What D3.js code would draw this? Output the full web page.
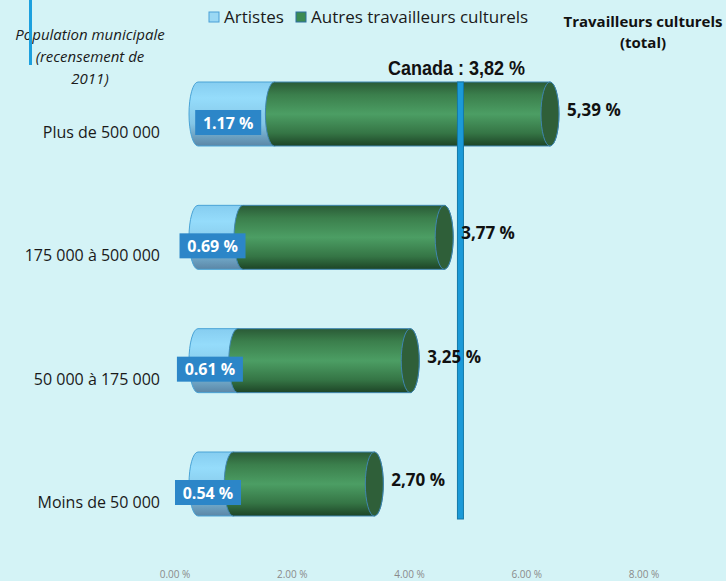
<!DOCTYPE html>
<html>
<head>
<meta charset="utf-8">
<script src="https://cdn.jsdelivr.net/npm/d3@7"></script>
<style>
  body { margin: 0; background: #d4f3f6; }
  svg { display: block; }
</style>
</head>
<body>
<svg id="chart" width="726" height="581"></svg>
<script>
// data
const categories = ["Plus de 500 000", "175 000 à 500 000", "50 000 à 175 000", "Moins de 50 000"];
const artistes = [1.17, 0.69, 0.61, 0.54];
const totals = [5.39, 3.77, 3.25, 2.70];
const canadaValue = 3.82;
const axisTicks = [0, 2, 4, 6, 8];

const width = 726;
const height = 581;
const svg = d3.select("#chart");
const font = "'Open Sans', Lato, sans-serif";

const barH = 64;
const rx = 9;

// bars scale (the drawn cylinders), axis labels sit on their own scale like in the original
const x = d3.scaleLinear().domain([0, 8]).range([198, 198 + 8 * 65.3]);
const xAxisScale = d3.scaleLinear().domain([0, 8]).range([174.5, 643.5]);
const y = d3.scalePoint().domain(categories).range([114, 484]);

const defs = svg.append("defs");

const blueGrad = defs.append("linearGradient").attr("id", "blueGrad")
  .attr("x1", 0).attr("y1", 0).attr("x2", 0).attr("y2", 1);
blueGrad.append("stop").attr("offset", "0%").attr("stop-color", "#86cdf0");
blueGrad.append("stop").attr("offset", "25%").attr("stop-color", "#95dcfb");
blueGrad.append("stop").attr("offset", "65%").attr("stop-color", "#84c6e6");
blueGrad.append("stop").attr("offset", "100%").attr("stop-color", "#5b86a6");

const greenGrad = defs.append("linearGradient").attr("id", "greenGrad")
  .attr("x1", 0).attr("y1", 0).attr("x2", 0).attr("y2", 1);
greenGrad.append("stop").attr("offset", "0%").attr("stop-color", "#2a5a36");
greenGrad.append("stop").attr("offset", "20%").attr("stop-color", "#3b7f4c");
greenGrad.append("stop").attr("offset", "50%").attr("stop-color", "#4c9e64");
greenGrad.append("stop").attr("offset", "80%").attr("stop-color", "#357545");
greenGrad.append("stop").attr("offset", "100%").attr("stop-color", "#1d4426");

// cylinder body: left edge bulges left, right edge bulges right
function body(x0, x1, cy) {
  const top = cy - barH / 2, bot = cy + barH / 2, ry = barH / 2;
  return `M${x0},${top} L${x1},${top} A${rx},${ry} 0 0 1 ${x1},${bot} L${x0},${bot} A${rx},${ry} 0 0 1 ${x0},${top} Z`;
}

const rows = categories.map((c, i) => ({ cat: c, a: artistes[i], t: totals[i] }));

const bars = svg.selectAll("g.bar")
  .data(rows)
  .enter()
  .append("g")
  .attr("class", "bar");

// artistes part
bars.append("path")
  .attr("d", d => body(x(0), x(d.a), y(d.cat)))
  .attr("fill", "url(#blueGrad)")
  .attr("stroke", "#4aa3d6")
  .attr("stroke-width", 1);

// autres travailleurs culturels part
bars.append("path")
  .attr("d", d => body(x(d.a), x(d.t), y(d.cat)))
  .attr("fill", "url(#greenGrad)")
  .attr("stroke", "#3f86b0")
  .attr("stroke-width", 1);

// end cap
bars.append("ellipse")
  .attr("cx", d => x(d.t))
  .attr("cy", d => y(d.cat))
  .attr("rx", rx)
  .attr("ry", barH / 2)
  .attr("fill", "#2f5f39")
  .attr("stroke", "#3f86b0")
  .attr("stroke-width", 1);

// artistes value boxes
const boxW = 66, boxH = 25;
function boxX(d) {
  return Math.max(175, (x(0) + x(d.a)) / 2 - 8 - boxW / 2);
}
bars.append("rect")
  .attr("x", d => boxX(d))
  .attr("y", d => y(d.cat) + 8.5 - boxH / 2)
  .attr("width", boxW)
  .attr("height", boxH)
  .attr("fill", "#2c86c8");
bars.append("text")
  .attr("x", d => boxX(d) + boxW / 2)
  .attr("y", d => y(d.cat) + 8.5 + 6)
  .attr("text-anchor", "middle")
  .attr("fill", "#fff")
  .attr("font-family", font)
  .attr("font-weight", "bold")
  .attr("font-size", 16)
  .text(d => d.a.toFixed(2) + " %");

// Canada line
const canadaX = x(canadaValue) + 13;
svg.append("rect")
  .attr("x", canadaX - 3)
  .attr("y", 82)
  .attr("width", 6)
  .attr("height", 437)
  .attr("fill", "#1b9ad8")
  .attr("stroke", "#1479a8")
  .attr("stroke-width", 1);

svg.append("text")
  .attr("x", canadaX - 4)
  .attr("y", 75)
  .attr("text-anchor", "middle")
  .attr("fill", "#111")
  .attr("font-family", "'Liberation Sans', Arial, sans-serif")
  .attr("font-weight", "bold")
  .attr("font-size", 20)
  .attr("textLength", 137)
  .attr("lengthAdjust", "spacingAndGlyphs")
  .text("Canada : " + canadaValue.toFixed(2).replace(".", ",") + " %");

// total labels (above the Canada line)
svg.selectAll("text.total")
  .data(rows)
  .enter()
  .append("text")
  .attr("class", "total")
  .attr("x", d => x(d.t) + 17)
  .attr("y", d => y(d.cat) + 2)
  .attr("fill", "#111")
  .attr("font-family", font)
  .attr("font-weight", "bold")
  .attr("font-size", 17)
  .text(d => d.t.toFixed(2).replace(".", ",") + " %");

// category labels
svg.selectAll("text.cat")
  .data(categories)
  .enter()
  .append("text")
  .attr("class", "cat")
  .attr("x", 160)
  .attr("y", d => y(d) + 24)
  .attr("text-anchor", "end")
  .attr("fill", "#1a1a1a")
  .attr("font-family", font)
  .attr("font-size", 16)
  .text(d => d);

// x axis (labels only)
const axis = d3.axisBottom(xAxisScale)
  .tickValues(axisTicks)
  .tickSize(0)
  .tickFormat(d => d.toFixed(2) + " %");
const gAxis = svg.append("g")
  .attr("transform", "translate(0,568)")
  .call(axis);
gAxis.select(".domain").remove();
gAxis.selectAll("text")
  .attr("fill", "#8a8a8a")
  .attr("font-family", font)
  .attr("font-size", 10);

// legend
const legendItems = [
  { label: "Artistes", fill: "#9ad8f4", stroke: "#4a9fd6", x: 209 },
  { label: "Autres travailleurs culturels", fill: "#3b8a52", stroke: "#2c6fa0", x: 296 }
];
const legend = svg.selectAll("g.legend")
  .data(legendItems)
  .enter()
  .append("g")
  .attr("class", "legend");
legend.append("rect")
  .attr("x", d => d.x)
  .attr("y", 12)
  .attr("width", 10)
  .attr("height", 10)
  .attr("fill", d => d.fill)
  .attr("stroke", d => d.stroke);
legend.append("text")
  .attr("x", d => d.x + 15)
  .attr("y", 23)
  .attr("fill", "#1a1a1a")
  .attr("font-family", font)
  .attr("font-size", 17)
  .text(d => d.label);

// right header
svg.append("text")
  .attr("text-anchor", "middle")
  .attr("fill", "#111")
  .attr("font-family", font)
  .attr("font-weight", "bold")
  .attr("font-size", 15)
  .selectAll("tspan")
  .data(["Travailleurs culturels", "(total)"])
  .enter()
  .append("tspan")
  .attr("x", 643)
  .attr("y", (d, i) => 27 + i * 21)
  .text(d => d);

// left header
svg.append("text")
  .attr("text-anchor", "middle")
  .attr("fill", "#1a1a1a")
  .attr("font-family", font)
  .attr("font-style", "italic")
  .attr("font-size", 15)
  .selectAll("tspan")
  .data(["Population municipale", "(recensement de", "2011)"])
  .enter()
  .append("tspan")
  .attr("x", 90)
  .attr("y", (d, i) => 40 + i * 22)
  .text(d => d);

// stray blue marker line at top left
svg.append("rect")
  .attr("x", 29)
  .attr("y", 0)
  .attr("width", 3)
  .attr("height", 65)
  .attr("fill", "#1ba0de");
</script>
</body>
</html>
